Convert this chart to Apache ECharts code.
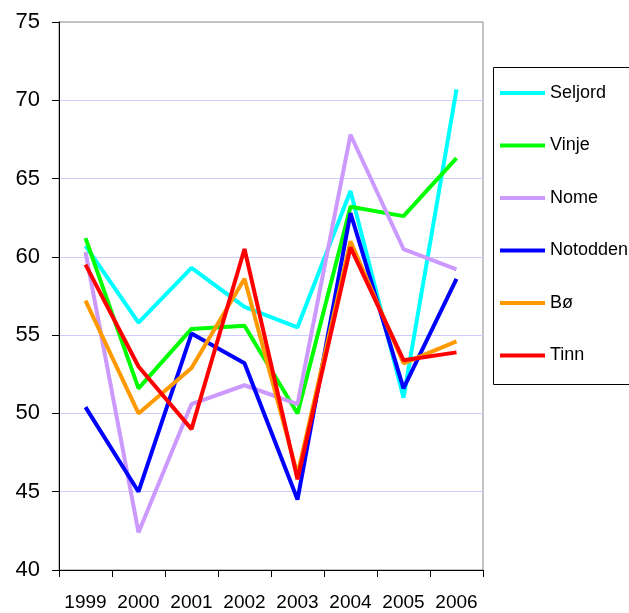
<!DOCTYPE html>
<html>
<head>
<meta charset="utf-8">
<script src="https://cdn.jsdelivr.net/npm/echarts@6/dist/echarts.min.js"></script>
<style>
  html, body { margin: 0; padding: 0; background: #fff; }
  #chart { width: 629px; height: 613px; }
</style>
</head>
<body>
<div id="chart"></div>
<script>
const years = ['1999', '2000', '2001', '2002', '2003', '2004', '2005', '2006']

const seljord  = [60.7, 55.8, 59.3, 56.8, 55.5, 64.2, 51.0, 70.7]
const vinje    = [61.2, 51.6, 55.4, 55.6, 50.0, 63.2, 62.6, 66.3]
const nome     = [60.3, 42.4, 50.6, 51.8, 50.6, 67.8, 60.5, 59.2]
const notodden = [50.4, 45.0, 55.1, 53.2, 44.5, 62.8, 51.6, 58.6]
const boe      = [57.2, 50.0, 52.9, 58.6, 46.1, 61.0, 53.2, 54.6]
const tinn     = [59.5, 53.0, 49.0, 60.5, 45.8, 60.6, 53.4, 53.9]

const names  = ['Seljord', 'Vinje', 'Nome', 'Notodden', 'Bø', 'Tinn']
const values = [seljord, vinje, nome, notodden, boe, tinn]
const colors = ['#00ffff', '#00ff00', '#cc99ff', '#0000ff', '#ff9900', '#ff0000']

const font = 'Liberation Sans, Arial, sans-serif'

const chart = echarts.init(document.getElementById('chart'), null, { renderer: 'canvas' })

const options = {
  animation: false,
  color: colors,
  grid: {
    left: 59, right: 146, top: 22, bottom: 43,
    show: true, borderColor: '#888', borderWidth: 1
  },
  graphic: [{
    type: 'rect',
    shape: { x: 493.5, y: 67.5, width: 200, height: 317 },
    style: { fill: '#fff', stroke: '#000', lineWidth: 1 },
    z: 0
  }],
  legend: {
    data: names,
    orient: 'vertical',
    left: 500,
    top: 83,
    padding: 0,
    icon: 'rect',
    itemWidth: 45,
    itemHeight: 4,
    itemGap: 32.5,
    textStyle: { fontFamily: font, fontSize: 18, color: '#000', lineHeight: 20 },
    z: 5
  },
  xAxis: {
    type: 'category',
    data: years,
    boundaryGap: true,
    axisLine: { lineStyle: { color: '#000', width: 1 } },
    axisTick: { show: true, length: 7, lineStyle: { color: '#000' } },
    axisLabel: { interval: 0, fontFamily: font, fontSize: 19, color: '#000', margin: 23 },
    splitLine: { show: false }
  },
  yAxis: {
    type: 'value',
    min: 40, max: 75, interval: 5,
    axisLine: { show: true, lineStyle: { color: '#000', width: 1 } },
    axisTick: { show: true, length: 7, lineStyle: { color: '#000' } },
    axisLabel: { fontFamily: font, fontSize: 22, color: '#000', margin: 19 },
    splitLine: { showMaxLine: false, lineStyle: { color: '#ccccff', width: 1 } }
  },
  series: names.map((n, i) => ({
    name: n,
    type: 'line',
    data: values[i],
    symbol: 'none',
    lineStyle: { width: 4, color: colors[i] },
    itemStyle: { color: colors[i] }
  }))
}

chart.setOption(options)
</script>
</body>
</html>
